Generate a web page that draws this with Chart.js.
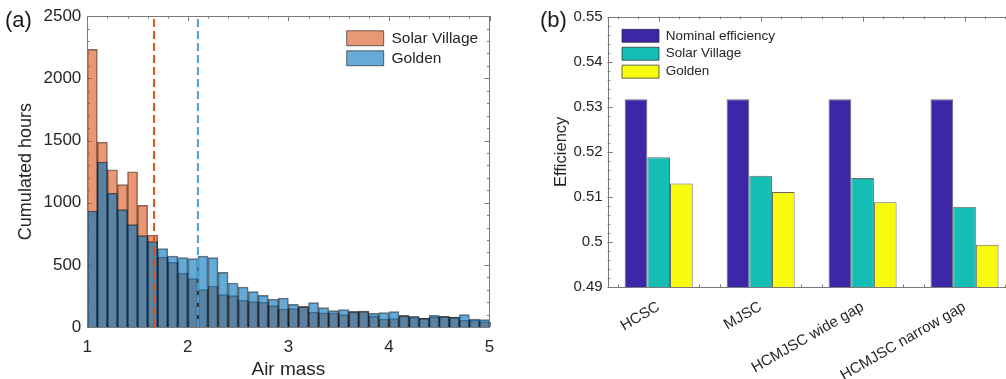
<!DOCTYPE html>
<html>
<head>
<meta charset="utf-8">
<title>Air mass histogram and efficiency</title>
<script src="https://cdn.jsdelivr.net/npm/chart.js@4.4.0/dist/chart.umd.min.js"></script>
<style>
  html, body { margin: 0; padding: 0; background: #fff; overflow: hidden; }
  #wrap { position: relative; width: 1006px; height: 379px; overflow: hidden; }
  .panel { position: absolute; top: 0; height: 379px; }
  #pa { left: 0; width: 510px; }
  #pb { left: 510px; width: 506px; }
  .tag { position: absolute; top: 9px; font-family: 'Liberation Sans', Arial, sans-serif; font-size: 22px; line-height: 22px; color: #1a1a1a; }
</style>
</head>
<body>
<div id="wrap">
  <div class="panel" id="pa"><canvas id="chartA" width="510" height="379"></canvas></div>
  <div class="panel" id="pb"><canvas id="chartB" width="506" height="379"></canvas></div>
  <div class="tag" style="left:5px">(a)</div>
  <div class="tag" style="left:540px">(b)</div>
</div>
<script>
// (a) histogram of air mass, bins of 0.1
var binCenters = [1.05, 1.15, 1.25, 1.35, 1.45, 1.55, 1.65, 1.75, 1.85, 1.95,
                  2.05, 2.15, 2.25, 2.35, 2.45, 2.55, 2.65, 2.75, 2.85, 2.95,
                  3.05, 3.15, 3.25, 3.35, 3.45, 3.55, 3.65, 3.75, 3.85, 3.95,
                  4.05, 4.15, 4.25, 4.35, 4.45, 4.55, 4.65, 4.75, 4.85, 4.95];
var solarVillage = [2233, 1487, 1265, 1145, 1249, 978, 740, 563, 520, 434,
                    389, 301, 330, 260, 252, 215, 204, 199, 172, 145,
                    148, 166, 121, 113, 113, 100, 126, 128, 86, 64,
                    67, 94, 80, 72, 80, 86, 80, 54, 54, 43];
var golden = [933, 1327, 1077, 944, 823, 735, 687, 630, 571, 558,
              550, 571, 558, 440, 354, 322, 285, 255, 223, 233,
              182, 163, 196, 156, 132, 140, 122, 125, 110, 116,
              124, 90, 86, 70, 94, 84, 78, 100, 64, 59];
var svMeanAM = 1.664;
var goldenMeanAM = 2.10;

// (b) efficiencies
var cellNames = ["HCSC", "MJSC", "HCMJSC wide gap", "HCMJSC narrow gap"];
var nominalEff = [0.5317, 0.5317, 0.5317, 0.5317];
var svEff = [0.5188, 0.5147, 0.5142, 0.5078];
var goldenEff = [0.5130, 0.5111, 0.5088, 0.4994];

var FONT = "'Liberation Sans', Arial, sans-serif";
Chart.defaults.font.family = FONT;
Chart.defaults.color = '#262626';

// box around the plot with inward ticks (matlab style)
var framePlugin = {
  id: 'frame',
  beforeDatasetsDraw: function(chart, args, o) {
    var ctx = chart.ctx, a = chart.chartArea, sx = chart.scales.x, sy = chart.scales.y;
    ctx.save();
    ctx.strokeStyle = o.color;
    ctx.lineWidth = 1;
    ctx.beginPath();
    function xt(v, len) {
      var p = Math.round(sx.getPixelForValue(v)) + 0.5;
      ctx.moveTo(p, a.bottom); ctx.lineTo(p, a.bottom - len);
      ctx.moveTo(p, a.top); ctx.lineTo(p, a.top + len);
    }
    function yt(v, len) {
      var p = Math.round(sy.getPixelForValue(v)) + 0.5;
      ctx.moveTo(a.left, p); ctx.lineTo(a.left + len, p);
      ctx.moveTo(a.right, p); ctx.lineTo(a.right - len, p);
    }
    o.xMinor.forEach(function(v) { xt(v, 2.5); });
    o.xMajor.forEach(function(v) { xt(v, 5); });
    o.yMinor.forEach(function(v) { yt(v, 2.5); });
    o.yMajor.forEach(function(v) { yt(v, 5); });
    ctx.stroke();
    ctx.restore();
  },
  afterDatasetsDraw: function(chart, args, o) {
    var ctx = chart.ctx, a = chart.chartArea;
    ctx.save();
    ctx.strokeStyle = o.color;
    ctx.lineWidth = 1;
    ctx.strokeRect(Math.round(a.left) + 0.5, Math.round(a.top) + 0.5,
                   Math.round(a.right - a.left), Math.round(a.bottom - a.top));
    ctx.restore();
  }
};

// put the legend where matlab had it
var legendSpot = {
  id: 'legendSpot',
  afterLayout: function(chart, args, o) {
    var lg = chart.legend;
    if (!lg) return;
    lg.left = o.x; lg.top = o.y;
    lg.right = o.x + lg.width; lg.bottom = o.y + lg.height;
  }
};

function steps(from, to, step) {
  var out = [];
  for (var i = 0; from + i * step <= to + 1e-9; i++) out.push(from + i * step);
  return out;
}

new Chart(document.getElementById('chartA'), {
  type: 'bar',
  plugins: [framePlugin, legendSpot],
  data: {
    labels: binCenters,
    datasets: [
      {
        label: 'Solar Village',
        data: solarVillage,
        backgroundColor: 'rgba(217,83,25,0.6)',
        borderColor: 'rgba(0,0,0,0.55)',
        borderWidth: 1,
        order: 2
      },
      {
        label: 'Golden',
        data: golden,
        backgroundColor: 'rgba(0,114,189,0.6)',
        borderColor: 'rgba(0,0,0,0.55)',
        borderWidth: 1,
        order: 1
      },
      {
        type: 'line',
        label: 'sv mean',
        data: [{x: svMeanAM, y: 0}, {x: svMeanAM, y: 2500}],
        borderColor: '#d95319',
        borderWidth: 2,
        borderDash: [8, 4],
        pointRadius: 0,
        fill: false,
        order: 0
      },
      {
        type: 'line',
        label: 'golden mean',
        data: [{x: goldenMeanAM, y: 0}, {x: goldenMeanAM, y: 2500}],
        borderColor: '#45a0dc',
        borderWidth: 2,
        borderDash: [8, 4],
        pointRadius: 0,
        fill: false,
        order: 0
      }
    ]
  },
  options: {
    responsive: false,
    animation: false,
    devicePixelRatio: 1,
    grouped: false,
    barPercentage: 1,
    categoryPercentage: 1,
    layout: { padding: { top: 16, right: 20.5, left: 0, bottom: 0 } },
    scales: {
      x: {
        type: 'linear',
        offset: false,
        min: 1, max: 5,
        grid: { display: false, drawTicks: false },
        border: { display: false },
        ticks: { stepSize: 1, padding: 10, font: { size: 17 }, callback: function(v) { return String(v); } },
        title: { display: true, text: 'Air mass', font: { size: 19, lineHeight: 1 }, padding: 0 },
        afterFit: function(s) { s.height = 52; }
      },
      y: {
        min: 0, max: 2500,
        grid: { display: false, drawTicks: false },
        border: { display: false },
        ticks: { stepSize: 500, padding: 6, font: { size: 17 }, callback: function(v) { return String(v); } },
        title: { display: true, text: 'Cumulated hours', font: { size: 18, lineHeight: 1 }, padding: { top: 17 } },
        afterFit: function(s) { s.width = 87.3; }
      }
    },
    plugins: {
      tooltip: { enabled: false },
      legend: {
        position: 'chartArea',
        align: 'start',
        labels: {
          boxWidth: 37, boxHeight: 15, padding: 4.5,
          font: { size: 15.5 },
          filter: function(item) { return item.datasetIndex < 2; },
          sort: function(a, b) { return a.datasetIndex - b.datasetIndex; }
        }
      },
      legendSpot: { x: 342.2, y: 26 },
      frame: {
        color: '#7a7a7a',
        xMajor: steps(1, 5, 1), xMinor: steps(1, 5, 0.2),
        yMajor: steps(0, 2500, 500), yMinor: steps(0, 2500, 100)
      }
    }
  }
});

new Chart(document.getElementById('chartB'), {
  type: 'bar',
  plugins: [framePlugin, legendSpot],
  data: {
    labels: cellNames,
    datasets: [
      { label: 'Nominal efficiency', data: nominalEff, backgroundColor: '#3e26a8', borderColor: 'rgba(40,40,40,0.7)', borderWidth: 1 },
      { label: 'Solar Village', data: svEff, backgroundColor: '#14beb4', borderColor: 'rgba(40,40,40,0.7)', borderWidth: 1 },
      { label: 'Golden', data: goldenEff, backgroundColor: '#f9fb0e', borderColor: 'rgba(40,40,40,0.7)', borderWidth: 1 }
    ]
  },
  options: {
    responsive: false,
    animation: false,
    devicePixelRatio: 1,
    barPercentage: 1,
    categoryPercentage: 0.667,
    layout: { padding: { top: 16.7, right: 0.5, left: 0, bottom: 0 } },
    scales: {
      x: {
        grid: { display: false, drawTicks: false },
        border: { display: false },
        ticks: { minRotation: 30, maxRotation: 30, autoSkip: false, padding: 11, font: { size: 15 } },
        afterFit: function(s) { s.height = 92; }
      },
      y: {
        min: 0.49, max: 0.55,
        grid: { display: false, drawTicks: false },
        border: { display: false },
        ticks: {
          stepSize: 0.01, padding: 5, font: { size: 15 },
          callback: function(v) { return String(Math.round(v * 100) / 100); }
        },
        title: { display: true, text: 'Efficiency', font: { size: 16.5, lineHeight: 1 }, padding: { top: 43 } },
        afterFit: function(s) { s.width = 97.7; }
      }
    },
    plugins: {
      tooltip: { enabled: false },
      legend: {
        position: 'chartArea',
        align: 'start',
        labels: { boxWidth: 37, boxHeight: 13, padding: 4.4, font: { size: 13.5 } }
      },
      legendSpot: { x: 107.6, y: 24.7 },
      frame: {
        color: '#7a7a7a',
        xMajor: [0, 1, 2, 3], xMinor: steps(-0.4, 3.4, 0.2),
        yMajor: steps(0.49, 0.55, 0.01), yMinor: steps(0.49, 0.55, 0.002)
      }
    }
  }
});
</script>
</body>
</html>
